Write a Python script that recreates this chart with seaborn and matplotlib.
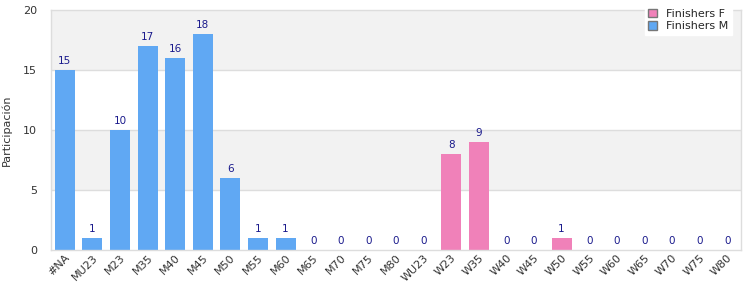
import matplotlib
matplotlib.use("Agg")
import matplotlib.pyplot as plt
import seaborn as sns
import pandas as pd
from matplotlib.patches import Patch

categories = ["#NA", "MU23", "M23", "M35", "M40", "M45", "M50", "M55", "M60", "M65",
              "M70", "M75", "M80", "WU23", "W23", "W35", "W40", "W45", "W50", "W55",
              "W60", "W65", "W70", "W75", "W80"]
finishers = [15, 1, 10, 17, 16, 18, 6, 1, 1, 0, 0, 0, 0, 0, 8, 9, 0, 0, 1, 0, 0, 0, 0, 0, 0]
gender = ["M"] * 14 + ["F"] * 11

yticks = [0, 5, 10, 15, 20]
colors = {"M": "#60a8f3", "F": "#f081b9"}

df = pd.DataFrame({"cat": categories, "val": finishers, "g": gender})

sns.set_style("white")
plt.rcParams["font.family"] = ["DejaVu Sans"]
fig = plt.figure(figsize=(7.5, 3), dpi=100)
ax = fig.add_axes([0.068, 0.1667, 0.92, 0.80])

# alternating bands
for i in range(len(yticks) - 1):
    if i % 2 == 1:
        ax.axhspan(yticks[i], yticks[i + 1], color="#f2f2f2", zorder=0, lw=0)
for t in yticks[1:-1]:
    ax.axhline(t, color="#dddddd", lw=1, zorder=0.5)

sns.barplot(data=df, x="cat", y="val", hue="g", palette=colors, dodge=False,
            width=0.72, ax=ax, legend=False, zorder=2, saturation=1, linewidth=0)

for i, v in enumerate(finishers):
    ax.text(i, v + 0.3, str(v), ha="center", va="bottom", fontsize=7.5, color="#1a1a8c", zorder=3)

ax.set_ylim(0, 20)
ax.set_xlim(-0.5, len(categories) - 0.5)
ax.set_yticks(yticks)
ax.set_xlabel("")
ax.set_ylabel("Participación", fontsize=8, color="#333333")
ax.yaxis.set_label_coords(-0.056, 0.5)
ax.tick_params(axis="y", labelsize=8, colors="#333333", length=0, pad=10)
ax.tick_params(axis="x", labelsize=8, colors="#333333", length=0, pad=2)
plt.setp(ax.get_xticklabels(), rotation=45, ha="right", rotation_mode="anchor")
for s in ax.spines.values():
    s.set_color("#dddddd")
    s.set_linewidth(1)

handles = [Patch(facecolor=colors["F"], edgecolor="#777777", label="Finishers F"),
           Patch(facecolor=colors["M"], edgecolor="#777777", label="Finishers M")]
leg = fig.legend(handles=handles, loc="upper right", bbox_to_anchor=(0.983, 1.0),
                 frameon=True, fontsize=8, handlelength=0.8, handleheight=0.8,
                 borderpad=0.3, labelspacing=0.2, fancybox=False)
leg.get_frame().set_edgecolor("white")
leg.get_frame().set_facecolor("white")
leg.get_frame().set_alpha(1)
leg.set_zorder(10)

fig.savefig("out.png", dpi=100)
